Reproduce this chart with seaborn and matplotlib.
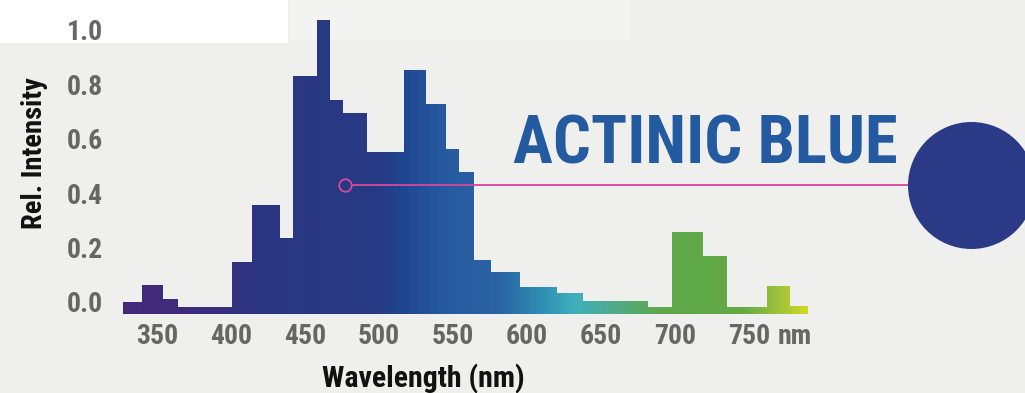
import numpy as np
import matplotlib
matplotlib.use("Agg")
import matplotlib.pyplot as plt
import seaborn as sns
from matplotlib.colors import LinearSegmentedColormap
from matplotlib.path import Path
from matplotlib.patches import PathPatch, Ellipse, Rectangle

# spectrum: bin edges (nm) and relative intensity per bin
EDGES_NM = [327, 340, 354, 364, 401, 414, 433, 442, 458, 467, 476, 492, 517, 532,
            545, 554, 564, 576, 595, 620, 638, 682, 698, 719, 735, 762, 778, 790]
INTENSITY = [0.0, 0.062, 0.011, -0.018, 0.147, 0.357, 0.235, 0.831, 1.037, 0.743,
             0.695, 0.551, 0.853, 0.728, 0.562, 0.478, 0.154, 0.110, 0.055, 0.033,
             0.004, -0.018, 0.257, 0.169, -0.018, 0.059, -0.015]
X_TICKS = [350, 400, 450, 500, 550, 600, 650, 700, 750]
Y_TICKS = [0.0, 0.2, 0.4, 0.6, 0.8, 1.0]
BASE = -0.045

TITLE = "ACTINIC BLUE"

# colour along the wavelength axis
GRAD_STOPS = [(325, "#46287a"), (380, "#3a2d7d"), (420, "#2b3682"), (500, "#283a84"),
              (515, "#1f4690"), (545, "#275ba1"), (580, "#2a62a3"), (610, "#2f8eb3"),
              (632, "#3fb0bd"), (660, "#52aa88"), (690, "#5ea84b"), (745, "#62aa45"),
              (770, "#9cc23a"), (792, "#d6dc22")]

BG = "#efefed"
W, H = 1025, 393

sns.set_theme(style="white")
plt.rcParams['font.family'] = ['Roboto Condensed', 'DejaVu Sans']

fig = plt.figure(figsize=(W / 100, H / 100), dpi=100, facecolor=BG)
fig.add_artist(Rectangle((0, 1 - 43 / H), 288 / W, 43 / H, transform=fig.transFigure,
                         facecolor="white", edgecolor="none", zorder=0))
fig.add_artist(Rectangle((290 / W, 1 - 40 / H), 340 / W, 40 / H, transform=fig.transFigure,
                         facecolor="#f3f3f2", edgecolor="none", zorder=0))

x_lo = 350 + (110 - 157) / 1.48
x_hi = 350 + (830 - 157) / 1.48
y_hi = (302 - 10) / 272
y_lo = (302 - 320) / 272
ax = fig.add_axes([110 / W, 1 - 320 / H, 720 / W, 310 / H])
ax.set_facecolor("none")

left = np.array(EDGES_NM[:-1], dtype=float)
widths = np.diff(EDGES_NM)
heights = np.array(INTENSITY) - BASE
bars = ax.bar(left, heights, width=widths, bottom=BASE, align="edge",
              color="none", linewidth=0)

# gradient clipped to the bars
paths = [b.get_path().transformed(b.get_patch_transform()) for b in bars.patches]
clip = PathPatch(Path.make_compound_path(*paths), transform=ax.transData,
                 facecolor="none", edgecolor="none")
ax.add_patch(clip)
lo, hi = GRAD_STOPS[0][0], GRAD_STOPS[-1][0]
cmap = LinearSegmentedColormap.from_list(
    "spec", [((w - lo) / (hi - lo), c) for w, c in GRAD_STOPS])
grad = np.linspace(0, 1, 512)[None, :]
im = ax.imshow(grad, extent=[lo, hi, BASE, 1.1], aspect="auto", cmap=cmap,
               origin="lower", interpolation="bilinear")
im.set_clip_path(clip)

ax.set_xlim(x_lo, x_hi)
ax.set_ylim(y_lo, y_hi)
ax.set_xticks(X_TICKS)
ax.set_xticklabels([str(t) for t in X_TICKS])
ax.set_yticks(Y_TICKS)
ax.set_yticklabels([f"{t:.1f}" for t in Y_TICKS])
ax.tick_params(axis="both", length=0, labelsize=20, labelcolor="#666666")
ax.tick_params(axis="x", pad=2.5)
ax.tick_params(axis="y", pad=5)
for lab in ax.get_xticklabels() + ax.get_yticklabels():
    lab.set_fontweight("bold")
sns.despine(ax=ax, left=True, bottom=True)

ax.annotate("nm", xy=(781, 0), xycoords=("data", "axes fraction"), xytext=(0, -2.5),
            textcoords="offset points", ha="center", va="top",
            fontsize=20, fontweight="bold", color="#666666")

fig.text(35 / W, 1 - 153 / H, "Rel. Intensity", rotation=90, ha="center", va="center",
         fontsize=20.5, fontweight="bold", color="#111111")
fig.text(423 / W, 1 - 387 / H, "Wavelength (nm)", ha="center", va="baseline",
         fontsize=21.5, fontweight="bold", color="#111111")

fig.text(705.5 / W, 1 - 163 / H, TITLE, ha="center", va="baseline",
         fontsize=48, fontweight="bold", color="#235aa0")

# pointer line and marker circle
ax.plot([477 + 4.5, 350 + (908 - 157) / 1.48], [0.43, 0.43], color="#d9479e", lw=1.3,
        clip_on=False, zorder=5)
ax.plot([477], [0.43], marker="o", ms=9, mfc="none", mec="#d9479e", mew=1.3,
        clip_on=False, zorder=5)
fig.add_artist(Ellipse((971.5 / W, 1 - 185.5 / H), 127 / W, 127 / H,
                       transform=fig.transFigure, facecolor="#2b3a87",
                       edgecolor="none", zorder=3))

fig.savefig("out.png", dpi=100, facecolor=BG)
